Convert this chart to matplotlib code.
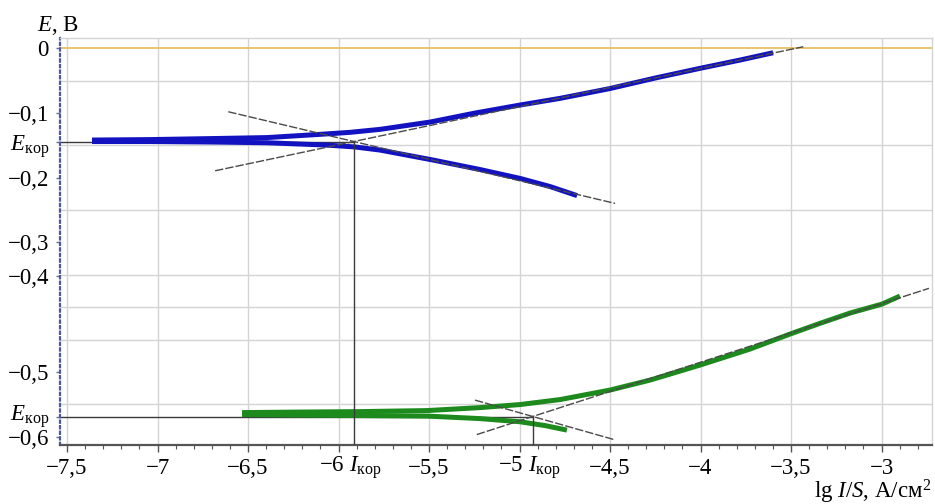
import matplotlib
matplotlib.use('Agg')
import matplotlib.pyplot as plt
from matplotlib.ticker import MultipleLocator, FixedLocator
from matplotlib.transforms import ScaledTranslation

plt.rcParams['font.family'] = ['Liberation Serif', 'DejaVu Serif']
plt.rcParams['mathtext.fontset'] = 'custom'
plt.rcParams['mathtext.rm'] = 'Liberation Serif'
plt.rcParams['mathtext.it'] = 'Liberation Serif:italic'
plt.rcParams['mathtext.bf'] = 'Liberation Serif:bold'

# ---------------- data ----------------
# Blue sample: anodic branch (upper) and cathodic branch (lower)
blue_an_lg = [-7.362, -7.041, -6.693, -6.395, -6.102, -5.936, -5.771, -5.494,
              -5.246, -4.997, -4.776, -4.500, -4.251, -4.003, -3.782, -3.599]
blue_an_E = [-0.1417, -0.1410, -0.1394, -0.1379, -0.1329, -0.1298, -0.1252, -0.1139,
             -0.1000, -0.0876, -0.0773, -0.0621, -0.0459, -0.0309, -0.0181, -0.0068]
blue_ca_lg = [-7.362, -7.041, -6.693, -6.395, -6.064, -5.909, -5.771, -5.478,
              -5.218, -4.997, -4.831, -4.682]
blue_ca_E = [-0.1440, -0.1440, -0.1448, -0.1459, -0.1495, -0.1524, -0.1572, -0.1726,
             -0.1873, -0.2010, -0.2136, -0.2276]

# Green sample
green_an_lg = [-6.533, -6.213, -5.881, -5.511, -5.218, -4.997, -4.776, -4.500,
               -4.279, -4.003, -3.727, -3.506, -3.340, -3.174, -2.997, -2.898]
green_an_E = [-0.5629, -0.5621, -0.5614, -0.5598, -0.5552, -0.5505, -0.5428, -0.5281,
              -0.5127, -0.4895, -0.4648, -0.4416, -0.4250, -0.4091, -0.3952, -0.3828]
green_ca_lg = [-6.533, -6.213, -5.881, -5.511, -5.218, -4.997, -4.859, -4.738]
green_ca_E = [-0.5660, -0.5668, -0.5675, -0.5683, -0.5722, -0.5771, -0.5830, -0.5900]

# Tafel tangents (start/end points)
blue_tan_an_lg, blue_tan_an_E = [-6.682, -3.432], [-0.1892, 0.0025]
blue_tan_ca_lg, blue_tan_ca_E = [-6.609, -4.472], [-0.0980, -0.2396]
green_tan_an_lg, green_tan_an_E = [-5.236, -2.738], [-0.5969, -0.3709]
green_tan_ca_lg, green_tan_ca_E = [-5.246, -4.482], [-0.5436, -0.6043]

# Corrosion points
blue_Icor, blue_Ecor = -5.914, -0.1440
green_Icor, green_Ecor = -4.925, -0.5694

# Axis ticks
xtick_vals = [-7.5, -7, -6.5, -6, -5.5, -5, -4.5, -4, -3.5, -3]
xtick_labels = ['−7,5', '−7', '−6,5', '', '−5,5', '', '−4,5', '−4', '−3,5', '−3']
xcor_labels = ['−6 $I_{\\mathrm{кор}}$', '−5 $I_{\\mathrm{кор}}$']
ytick_vals = [0, -0.1, blue_Ecor, -0.2, -0.3, -0.352, -0.5, green_Ecor, -0.6]
ytick_labels = ['0', '−0,1', '$E_{\\mathrm{кор}}$', '−0,2', '−0,3', '−0,4', '−0,5',
                '$E_{\\mathrm{кор}}$', '−0,6']

# ---------------- figure ----------------
W, H = 935, 504
fig = plt.figure(figsize=(W / 100, H / 100), dpi=100)
ax = fig.add_axes([60 / W, 1 - 445 / H, (932 - 60) / W, (445 - 38) / H])
xmin, xmax = -7.539, -2.721
ymin, ymax = -0.613, 0.016
ax.set_xlim(xmin, xmax)
ax.set_ylim(ymin, ymax)

FS = 16.5
grid_c = '#d4d4d4'

# grid
ax.xaxis.set_major_locator(FixedLocator(xtick_vals))
ax.xaxis.set_minor_locator(MultipleLocator(0.1))
ax.set_xticklabels(xtick_labels, fontsize=FS)
ax.xaxis.grid(True, which='major', color=grid_c, lw=1.0)
ax.yaxis.set_minor_locator(MultipleLocator(0.05))
ax.yaxis.set_major_locator(FixedLocator(ytick_vals))
ax.set_yticklabels(ytick_labels, fontsize=FS)
ax.yaxis.grid(True, which='minor', color=grid_c, lw=1.0)
ax.yaxis.grid(False, which='major')
ax.set_axisbelow(True)

ax.tick_params(axis='x', which='major', direction='out', length=5, width=1,
               color='#555555', pad=4)
ax.tick_params(axis='x', which='minor', direction='out', length=3, width=0.8,
               color='#555555')
ax.tick_params(axis='y', which='major', direction='out', length=3, width=1,
               color='#6070a0', pad=5)
ax.tick_params(axis='y', which='minor', length=0)

# nudge the lower E_kor label up a little (as in the reference)
lab = ax.yaxis.get_major_ticks()[7].label1
lab.set_transform(lab.get_transform() + ScaledTranslation(0, 5 / 100, fig.dpi_scale_trans))

for s in ['top', 'right']:
    ax.spines[s].set_color(grid_c)
    ax.spines[s].set_linewidth(1.0)
ax.spines['bottom'].set_color('#555555')
ax.spines['bottom'].set_linewidth(1.6)
ax.spines['left'].set_color('#4a5a9a')
ax.spines['left'].set_linewidth(1.6)
ax.spines['left'].set_linestyle((0, (1, 1.5)))

# zero line
ax.axhline(0, color='#e6c068', lw=1.3, zorder=2)

# corrosion guide lines
guide_c = '#3a3a3a'
ax.plot([xmin, blue_Icor], [blue_Ecor, blue_Ecor], color=guide_c, lw=1.0, zorder=2)
ax.plot([blue_Icor, blue_Icor], [blue_Ecor, ymin], color=guide_c, lw=1.0, zorder=4)
ax.plot([xmin, green_Icor], [green_Ecor, green_Ecor], color=guide_c, lw=1.0, zorder=2)
ax.plot([green_Icor, green_Icor], [green_Ecor, ymin], color=guide_c, lw=1.0, zorder=4)

# curves
blue_c = '#1212c0'
green_c = '#1d8a1d'
lw_curve = 3.6
ax.plot(blue_an_lg, blue_an_E, color=blue_c, lw=lw_curve, solid_capstyle='butt', zorder=3)
ax.plot(blue_ca_lg, blue_ca_E, color=blue_c, lw=lw_curve, solid_capstyle='butt', zorder=3)
ax.plot(green_an_lg, green_an_E, color=green_c, lw=lw_curve, solid_capstyle='butt', zorder=3)
ax.plot(green_ca_lg, green_ca_E, color=green_c, lw=lw_curve, solid_capstyle='butt', zorder=3)

# tangents
tan_kw = dict(color='#4a4a4a', lw=1.0, linestyle=(0, (6, 1.5)), zorder=5)
ax.plot(blue_tan_an_lg, blue_tan_an_E, **tan_kw)
ax.plot(blue_tan_ca_lg, blue_tan_ca_E, **tan_kw)
ax.plot(green_tan_an_lg, green_tan_an_E, **tan_kw)
ax.plot(green_tan_ca_lg, green_tan_ca_E, **tan_kw)

# I_kor labels under the axis
for xc, labtxt in zip([blue_Icor, green_Icor], xcor_labels):
    ax.annotate(labtxt, xy=(xc, 0), xycoords=('data', 'axes fraction'),
                xytext=(-3, -6.5), textcoords='offset points', ha='center', va='top',
                fontsize=FS)

# axis titles
fig.text(37 / W, 1 - 31 / H, '$E$, В', fontsize=FS, ha='left', va='baseline')
fig.text(931 / W, 1 - 498 / H, 'lg $I/S$, А/см$^2$', fontsize=FS, ha='right',
         va='baseline')

fig.savefig('out.png', dpi=100)
